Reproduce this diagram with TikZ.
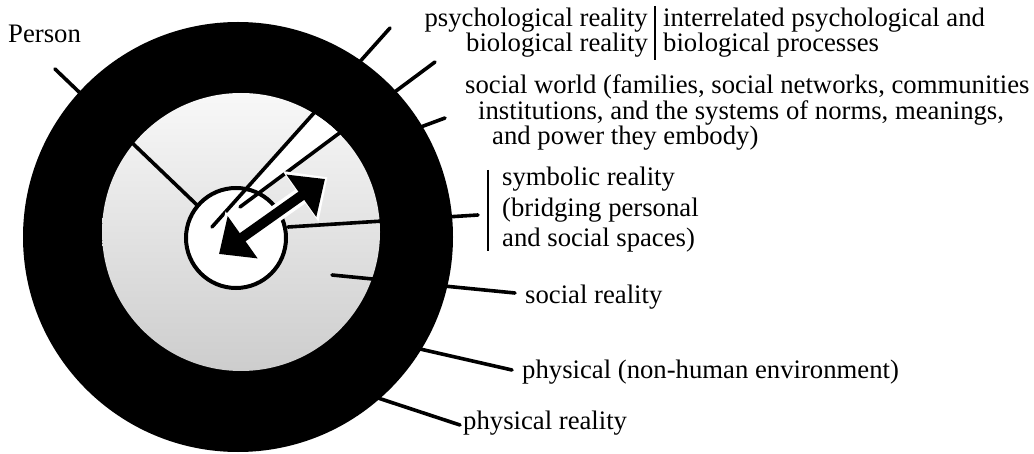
\documentclass[tikz,border=0pt]{standalone}
\usepackage{fontspec}
\setmainfont{Liberation Serif}
\usetikzlibrary{
    arrows.meta,
    positioning,
    calc
}
\definecolor{ringblack}{RGB}{0,0,0}
\definecolor{sociallight}{RGB}{248,248,248}
\definecolor{socialdark}{RGB}{205,205,205}
\tikzset{
    % Labels
    lbl/.style={
        font=\fontsize{26.7}{27}\selectfont,
        inner sep=0pt,
        text=black
    },
    % Leader lines
    leader/.style={
        line width=3.6pt,
        draw=ringblack,
        line cap=round
    },
    divider/.style={
        line width=2.2pt,
        draw=ringblack
    },
    % Double arrow
    bigarrow/.style={
        {Triangle[length=29pt,width=50pt]}-{Triangle[length=29pt,width=50pt]},
        line width=10pt,
        draw=ringblack
    },
    haloarrow/.style={
        {Triangle[length=33pt,width=60pt]}-{Triangle[length=33pt,width=60pt]},
        line width=17pt,
        draw=white
    }
}

\begin{document}
\begin{tikzpicture}[x=1pt, y=-1pt]

    \useasboundingbox (0,0) rectangle (1034,454);

    % Rings
    \coordinate (center) at (238,237);
    \coordinate (socialcenter) at (241,232);
    \coordinate (personcenter) at (236,238);
    \fill[ringblack] (center) circle (215pt);
    \shade[top color=sociallight, bottom color=socialdark] (socialcenter) circle (139pt);

    % Leader end points
    \coordinate (personTick) at (55,69);
    \coordinate (personEnd) at (197,205);
    \coordinate (psychTick) at (390,28);
    \coordinate (psychEnd) at (212,227);
    \coordinate (bioTick) at (435,62);
    \coordinate (bioEnd) at (240,207);
    \coordinate (worldTick) at (445,118);
    \coordinate (worldEnd) at (418,128);
    \coordinate (symbTick) at (478,215);
    \coordinate (symbEnd) at (288,227);
    \coordinate (socTick) at (515,293);
    \coordinate (socEnd) at (332,275);
    \coordinate (physTick) at (512,370);
    \coordinate (physEnd) at (420,349);
    \coordinate (realTick) at (460,425);
    \coordinate (realEnd) at (378,398);

    % White band between psychological and biological lines
    \begin{scope}
        \clip (socialcenter) circle (139pt);
        \fill[white] (psychTick) -- (psychEnd) -- (bioEnd) -- (bioTick) -- cycle;
    \end{scope}

    % Person
    \draw[fill=white, line width=4pt] (personcenter) circle (50pt);

    % Labels
    \node[lbl, anchor=base west] (person) at (8,43) {Person};
    \node[lbl, anchor=base east] (psych) at (648,27) {psychological reality};
    \node[lbl, anchor=base east] (bio) at (648,52) {biological reality};
    \node[lbl, anchor=base west] (procA) at (663,27) {interrelated psychological and};
    \node[lbl, anchor=base west] (procB) at (663,52) {biological processes};
    \node[lbl, anchor=base west] (worldA) at (465,94) {social world (families, social networks, communities};
    \node[lbl, anchor=base west] (worldB) at (478,119.5) {institutions, and the systems of norms, meanings,};
    \node[lbl, anchor=base west] (worldC) at (492,145) {and power they embody)};
    \node[lbl, anchor=base west] (symbA) at (502,186) {symbolic reality};
    \node[lbl, anchor=base west] (symbB) at (502,217) {(bridging personal};
    \node[lbl, anchor=base west] (symbC) at (502,247) {and social spaces)};
    \node[lbl, anchor=base west] (socreal) at (525,304) {social reality};
    \node[lbl, anchor=base west] (physenv) at (522,378) {physical (non-human environment)};
    \node[lbl, anchor=base west] (physreal) at (463,429) {physical reality};

    % Dividers
    \coordinate (psychBarTop) at (655,6);
    \coordinate (psychBarBot) at (655,60);
    \coordinate (symbBarTop) at (488,170);
    \coordinate (symbBarBot) at (488,251);
    \draw[divider] (psychBarTop) -- (psychBarBot);
    \draw[divider] (symbBarTop) -- (symbBarBot);

    % Leader lines
    \draw[leader] (personTick) -- (personEnd);
    \draw[leader] (psychTick) -- (psychEnd);
    \draw[leader] (bioTick) -- (bioEnd);
    \draw[leader] (worldTick) -- (worldEnd);
    \draw[leader] (symbTick) -- (symbEnd);
    \draw[leader] (socTick) -- (socEnd);
    \draw[leader] (physTick) -- (physEnd);
    \draw[leader] (realTick) -- (realEnd);

    % Double arrow
    \coordinate (arrowIn) at (219,254);
    \coordinate (arrowOut) at (325,179);
    \draw[haloarrow] ($(arrowIn)!-3pt!(arrowOut)$) -- ($(arrowOut)!-3pt!(arrowIn)$);
    \draw[bigarrow] (arrowIn) -- (arrowOut);

\end{tikzpicture}
\end{document}
